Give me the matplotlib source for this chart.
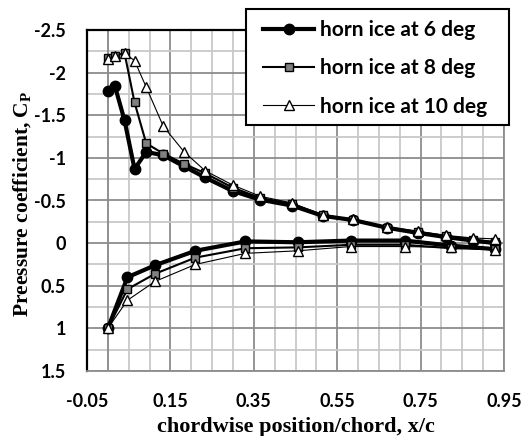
import numpy as np
import matplotlib
matplotlib.use("Agg")
import matplotlib.pyplot as plt
from matplotlib.ticker import MultipleLocator
from matplotlib.patches import Rectangle

# chordwise stations (upper / lower surface)
x_upper = [0.0, 0.017, 0.04, 0.064, 0.092, 0.133, 0.183, 0.233, 0.30, 0.365,
           0.442, 0.515, 0.589, 0.67, 0.743, 0.812, 0.876, 0.928]
x_lower = [0.0, 0.047, 0.113, 0.21, 0.33, 0.455, 0.582, 0.712, 0.823, 0.928]

cp6_upper = [-1.79, -1.84, -1.44, -0.87, -1.07, -1.03, -0.90, -0.77, -0.61, -0.51,
             -0.44, -0.32, -0.27, -0.18, -0.12, -0.07, -0.03, 0.0]
cp8_upper = [-2.17, -2.20, -2.23, -1.65, -1.17, -1.05, -0.93, -0.82, -0.65, -0.53,
             -0.46, -0.33, -0.27, -0.18, -0.13, -0.08, -0.04, -0.01]
cp10_upper = [-2.16, -2.19, -2.23, -2.14, -1.83, -1.37, -1.07, -0.85, -0.68, -0.55,
              -0.47, -0.33, -0.28, -0.19, -0.14, -0.09, -0.06, -0.05]

cp6_lower = [1.0, 0.40, 0.26, 0.09, -0.02, -0.01, -0.03, -0.03, 0.03, 0.07]
cp8_lower = [1.0, 0.54, 0.36, 0.17, 0.06, 0.05, 0.02, 0.02, 0.06, 0.07]
cp10_lower = [1.0, 0.67, 0.45, 0.25, 0.12, 0.09, 0.04, 0.04, 0.05, 0.08]

labels = ["horn ice at 6 deg", "horn ice at 8 deg", "horn ice at 10 deg"]
xticks = [-0.05, 0.15, 0.35, 0.55, 0.75, 0.95]
xtick_labels = ["-0.05", "0.15", "0.35", "0.55", "0.75", "0.95"]
yticks = [-2.5, -2, -1.5, -1, -0.5, 0, 0.5, 1, 1.5]
ytick_labels = ["-2.5", "-2", "-1.5", "-1", "-0.5", "0", "0.5", "1", "1.5"]

tick_font = "Lato"
title_font = "Liberation Serif"
plt.rcParams["mathtext.fontset"] = "custom"
plt.rcParams["mathtext.bf"] = "Liberation Serif:bold"
plt.rcParams["mathtext.rm"] = "Liberation Serif:bold"

W, H = 521, 436
fig = plt.figure(figsize=(W/100, H/100), dpi=100)
ax = fig.add_axes([87/W, 1-371/H, (504-87)/W, (371-30)/H])

styles = [
    dict(color="black", lw=3.0, marker="o", ms=7.5, mfc="black", mec="black"),
    dict(color="black", lw=1.5, marker="s", ms=6.0, mfc="#808080", mec="black", mew=1.0),
    dict(color="black", lw=0.8, marker="^", ms=7.8, mfc="white", mec="black", mew=1.0),
]
uppers = [cp6_upper, cp8_upper, cp10_upper]
lowers = [cp6_lower, cp8_lower, cp10_lower]

handles = [None, None, None]
for i in [2, 1, 0]:
    h, = ax.plot(x_upper, uppers[i], zorder=3 + i, label=labels[i], **styles[i])
    ax.plot(x_lower, lowers[i], zorder=3 + i, **styles[i])
    handles[i] = h

ax.set_xlim(-0.05, 0.95)
ax.set_ylim(1.5, -2.5)
ax.set_xticks(xticks, xtick_labels)
ax.set_yticks(yticks, ytick_labels)
ax.xaxis.set_minor_locator(MultipleLocator(0.05, offset=-0.05))
ax.yaxis.set_minor_locator(MultipleLocator(0.25))
ax.grid(which="major", color="#8c8c8c", lw=1.3, zorder=0)
ax.grid(which="minor", color="#c8c8c8", lw=1.3, zorder=0)
ax.axvline(0.0, color="#8c8c8c", lw=1.3, zorder=1)
ax.set_axisbelow(True)

ax.tick_params(which="both", length=0)
ax.tick_params(axis="y", pad=15)
ax.tick_params(axis="x", pad=16)
for t in ax.get_xticklabels() + ax.get_yticklabels():
    t.set_fontfamily(tick_font)
    t.set_fontweight("bold")
    t.set_fontsize(13)

for side in ["top", "left"]:
    ax.spines[side].set_color("black")
    ax.spines[side].set_linewidth(1.6)
for side in ["bottom", "right"]:
    ax.spines[side].set_color("#8c8c8c")
    ax.spines[side].set_linewidth(1.3)

ax.set_xlabel("chordwise position/chord, x/c", fontfamily=title_font,
              fontweight="bold", fontsize=16, labelpad=5)
ax.set_ylabel(r"Preessure coefficient, C$_\mathrm{P}$", fontfamily=title_font,
              fontweight="bold", fontsize=15.5)
ax.yaxis.set_label_coords(-0.127, 0.49)

# legend box drawn separately so the padding can match the original
fig.patches.append(Rectangle((246/W, 1-125/H), (509-246)/W, (125-9)/H,
                             transform=fig.transFigure, facecolor="white",
                             edgecolor="black", lw=1.5, zorder=9))
leg = fig.legend(handles=handles, loc="upper left",
                 bbox_to_anchor=(263/W, 1-20/H), frameon=False,
                 prop=dict(family=tick_font, weight="bold", size=15),
                 handlelength=2.45, handletextpad=0.3, labelspacing=0.88,
                 borderpad=0, borderaxespad=0)
leg.set_zorder(10)

fig.savefig("out.png", dpi=100)
